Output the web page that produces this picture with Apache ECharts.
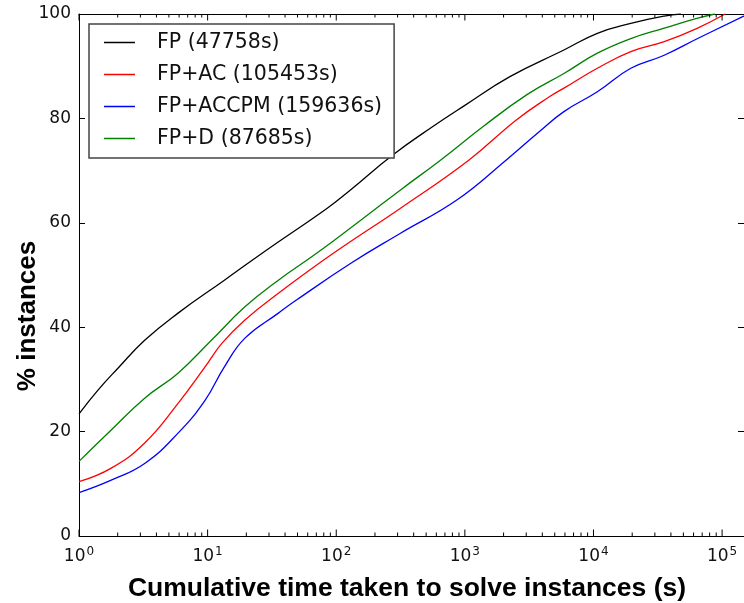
<!DOCTYPE html>
<html>
<head>
<meta charset="utf-8">
<script src="https://cdn.jsdelivr.net/npm/echarts@6/dist/echarts.min.js"></script>
<style>
  html, body { margin: 0; padding: 0; background: #fff; }
  #chart { width: 744px; height: 603px; }
</style>
</head>
<body>
<div id="chart"></div>
<script>
// ============================================
// DATA
// ============================================

// cumulative time (s) and % instances solved, per configuration
const fpTime = [1, 1.41, 2.0, 3.24, 5.89, 13.5, 28.8, 85.1, 129, 275, 575, 1000, 2239, 5888, 10715, 19498, 35481, 47758];
const fpPct  = [23.4, 28, 32.1, 37.5, 42.7, 49, 54.8, 62.8, 66.3, 73, 78.6, 82.5, 88, 93.1, 96.3, 98.2, 99.6, 100];

const fpAcTime = [1, 1.78, 3.24, 5.89, 9.55, 12.9, 19.5, 35.5, 95.5, 316, 1072, 2512, 4571, 5888, 10715, 19498, 35481, 64565, 105453];
const fpAcPct  = [10.4, 13, 17.8, 25.4, 32.4, 36.9, 41.4, 46.5, 54.2, 62.8, 72, 79.7, 84.2, 85.8, 89.6, 92.8, 94.7, 97.3, 100];

const fpAccpmTime = [1, 1.78, 3.24, 5.89, 9.55, 13.5, 19.5, 35.5, 49, 129, 316, 871, 2089, 3802, 5888, 10715, 19498, 35481, 64565, 159636];
const fpAccpmPct  = [8.3, 10.7, 13.9, 19.7, 26, 32.4, 37.9, 42.7, 45.2, 52.2, 58, 64.4, 72, 77.5, 81.3, 85.1, 89.6, 92.1, 95.3, 100];

const fpDTime = [1, 1.78, 3.24, 5.89, 10.7, 19.5, 35.5, 70.8, 155, 316, 646, 1380, 3020, 5888, 10715, 19498, 35481, 64565, 87685];
const fpDPct  = [14.3, 20.3, 26.4, 31.2, 37.5, 43.9, 49, 54.2, 60.5, 66.3, 72, 78.4, 84.5, 88.6, 92.5, 95.3, 97.3, 99.2, 100];

const seriesNames = ['FP (47758s)', 'FP+AC (105453s)', 'FP+ACCPM (159636s)', 'FP+D (87685s)'];
const seriesColors = ['#000000', '#ff0000', '#0000ff', '#008000'];

// decade exponents shown as tick labels (10^0 .. 10^5)
const xDecades = [0, 1, 2, 3, 4, 5];
// multipliers for the minor ticks inside each decade
const minorSteps = [2, 3, 4, 5, 6, 7, 8, 9];

// ============================================
// HELPERS
// ============================================

const X_MAX = 148000;
const LOG_MAX = Math.log10(X_MAX);
const MAJOR_LEN = 6.5;
const MINOR_LEN = 3.5;

// [time, isMajor] for each tick on the time axis
function timeTicks() {
    const out = [];
    xDecades.forEach(e => {
        const base = Math.pow(10, e);
        out.push([base, 1]);
        minorSteps.forEach(k => {
            if (k * base <= X_MAX) out.push([k * base, 0]);
        });
    });
    return out;
}

function zip(xs, ys) {
    return xs.map((x, i) => [x, ys[i]]);
}

// tick marks along the bottom and top spines
function renderTick(params, api) {
    const v = api.value(0);
    const len = api.value(1) ? MAJOR_LEN : MINOR_LEN;
    const bottom = api.coord([v, 0]);
    const top = api.coord([v, 100]);
    const style = { stroke: '#000', lineWidth: 1 };
    return {
        type: 'group',
        children: [
            { type: 'line', shape: { x1: bottom[0], y1: bottom[1], x2: bottom[0], y2: bottom[1] - len }, style: style },
            { type: 'line', shape: { x1: top[0], y1: top[1], x2: top[0], y2: top[1] + len }, style: style }
        ]
    };
}

function logAxis(position) {
    return {
        type: 'log',
        logBase: 10,
        gridIndex: 0,
        position: position,
        min: 1,
        max: X_MAX,
        axisLine: { show: true, onZero: false, lineStyle: { color: '#000', width: 1 } },
        axisTick: { show: false },
        axisLabel: { show: false },
        splitLine: { show: false }
    };
}

// exponent-space axis used only for the 10^k labels
function labelAxis() {
    return {
        type: 'value',
        gridIndex: 1,
        position: 'bottom',
        min: 0,
        max: LOG_MAX,
        axisLine: { show: false },
        axisTick: { show: false },
        axisLabel: {
            show: true,
            customValues: xDecades,
            margin: 10,
            formatter: function (e) {
                return '{b|10}{s|' + Math.round(e) + '}';
            },
            rich: {
                b: { fontFamily: 'DejaVu Sans', fontSize: 17, color: '#111' },
                s: { fontFamily: 'DejaVu Sans', fontSize: 12, color: '#111', verticalAlign: 'top', padding: [0, 0, 10, 1] }
            }
        },
        splitLine: { show: false }
    };
}

function yAxisDef(gridIndex, position, showLabel) {
    return {
        type: 'value',
        gridIndex: gridIndex,
        position: position,
        min: 0,
        max: 100,
        interval: 20,
        axisLine: { show: true, lineStyle: { color: '#000', width: 1 } },
        axisTick: { show: true, inside: true, length: 6, lineStyle: { color: '#000' } },
        axisLabel: {
            show: showLabel,
            margin: 8,
            fontFamily: 'DejaVu Sans',
            fontSize: 17,
            color: '#111'
        },
        splitLine: { show: false }
    };
}

// ============================================
// CHART
// ============================================

const chart = echarts.init(document.getElementById('chart'), null, { renderer: 'canvas' });

const gridBox = { left: 79, top: 14, right: 0, bottom: 67 };

const lineData = [
    zip(fpTime, fpPct),
    zip(fpAcTime, fpAcPct),
    zip(fpAccpmTime, fpAccpmPct),
    zip(fpDTime, fpDPct)
];

const lineSeries = seriesNames.map((name, i) => ({
    name: name,
    type: 'line',
    xAxisIndex: 0,
    yAxisIndex: 0,
    data: lineData[i],
    smooth: 0.45,
    symbol: 'none',
    clip: true,
    color: seriesColors[i],
    lineStyle: { color: seriesColors[i], width: 1.3 },
    itemStyle: { color: seriesColors[i] },
    z: 2
}));

const option = {
    backgroundColor: '#fff',
    animation: false,
    grid: [
        Object.assign({}, gridBox),
        Object.assign({}, gridBox)
    ],
    xAxis: [
        logAxis('bottom'),
        logAxis('top'),
        labelAxis()
    ],
    yAxis: [
        yAxisDef(0, 'left', true),
        yAxisDef(0, 'right', false),
        Object.assign(yAxisDef(1, 'left', false), { show: false })
    ],
    legend: {
        orient: 'vertical',
        left: 89,
        top: 24,
        padding: [8, 12, 9, 15],
        itemGap: 11,
        itemWidth: 31,
        itemHeight: 1.5,
        icon: 'rect',
        borderColor: '#444',
        borderWidth: 1.5,
        backgroundColor: '#fff',
        selectedMode: false,
        textStyle: {
            fontFamily: 'DejaVu Sans',
            fontSize: 20.5,
            color: '#111',
            padding: [0, 0, 0, 17]
        },
        data: seriesNames
    },
    graphic: [
        {
            type: 'text',
            x: 28,
            y: 316,
            rotation: Math.PI / 2,
            style: {
                text: '% instances',
                font: 'bold 26px "Liberation Sans", Arial, sans-serif',
                fill: '#000',
                align: 'center',
                verticalAlign: 'middle'
            }
        },
        {
            type: 'text',
            x: 407,
            y: 589,
            style: {
                text: 'Cumulative time taken to solve instances (s)',
                font: 'bold 26.5px "Liberation Sans", Arial, sans-serif',
                fill: '#000',
                align: 'center',
                verticalAlign: 'middle'
            }
        }
    ],
    series: lineSeries.concat([{
        name: 'ticks',
        type: 'custom',
        xAxisIndex: 0,
        yAxisIndex: 0,
        data: timeTicks(),
        renderItem: renderTick,
        clip: false,
        silent: true,
        z: 3
    }])
};

chart.setOption(option);
</script>
</body>
</html>
